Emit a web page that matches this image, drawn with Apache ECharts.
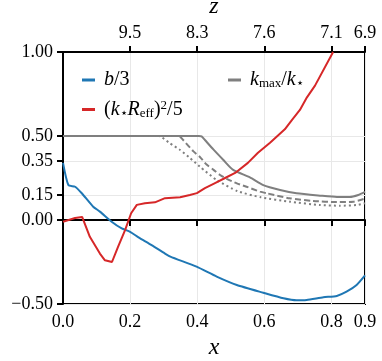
<!DOCTYPE html>
<html>
<head>
<meta charset="utf-8">
<script src="https://cdn.jsdelivr.net/npm/echarts@6/dist/echarts.min.js"></script>
<style>
  html, body { margin: 0; padding: 0; background: #fff; }
  #chart { width: 382px; height: 361px; }
</style>
</head>
<body>
<div id="chart"></div>
<script>
// values, [x, y]
var bOver3 = [[0, 0.34], [0.016, 0.208], [0.036, 0.198], [0.056, 0.159], [0.09, 0.079], [0.11, 0.05],
  [0.145, -0.01], [0.175, -0.05], [0.2, -0.07], [0.225, -0.103], [0.264, -0.149], [0.304, -0.2],
  [0.32, -0.218], [0.398, -0.278], [0.458, -0.337], [0.518, -0.387], [0.597, -0.433],
  [0.657, -0.466], [0.696, -0.478], [0.726, -0.476], [0.776, -0.46], [0.816, -0.452],
  [0.845, -0.427], [0.875, -0.387], [0.9, -0.33]]
var kReff = [[0, -0.01], [0.036, 0.012], [0.057, 0.018], [0.08, -0.1], [0.11, -0.2], [0.125, -0.24],
  [0.146, -0.25], [0.164, -0.16], [0.185, -0.06], [0.203, 0.04], [0.22, 0.09], [0.244, 0.1],
  [0.274, 0.105], [0.304, 0.13], [0.349, 0.135], [0.378, 0.149], [0.399, 0.16], [0.423, 0.19],
  [0.453, 0.22], [0.483, 0.25], [0.513, 0.28], [0.551, 0.34], [0.581, 0.4], [0.617, 0.46],
  [0.661, 0.54], [0.682, 0.595], [0.706, 0.655], [0.727, 0.73], [0.751, 0.8], [0.805, 1.0]]
var kmaxSolid = [[0, 0.5], [0.405, 0.5], [0.413, 0.498], [0.423, 0.476], [0.448, 0.42], [0.478, 0.357],
  [0.507, 0.298], [0.557, 0.254], [0.597, 0.208], [0.647, 0.179], [0.696, 0.159], [0.766, 0.145],
  [0.816, 0.137], [0.855, 0.137], [0.88, 0.149], [0.9, 0.167]]
var kmaxDashed = [[0, 0.5], [0.345, 0.5], [0.358, 0.476], [0.388, 0.41], [0.408, 0.375], [0.428, 0.33],
  [0.448, 0.3], [0.468, 0.268], [0.488, 0.245], [0.518, 0.218], [0.547, 0.198], [0.587, 0.169],
  [0.607, 0.159], [0.676, 0.129], [0.746, 0.113], [0.816, 0.107], [0.865, 0.109], [0.9, 0.127]]
var kmaxDotted = [[0, 0.5], [0.285, 0.5], [0.319, 0.456], [0.349, 0.417], [0.378, 0.37], [0.408, 0.317],
  [0.458, 0.238], [0.52, 0.172], [0.59, 0.135], [0.676, 0.109], [0.766, 0.089], [0.825, 0.085],
  [0.875, 0.089], [0.9, 0.1]]

var xTicks = [0, 0.2, 0.4, 0.6, 0.8, 0.9]
var yTicks = [-0.5, 0, 0.15, 0.35, 0.5, 1]
var zPos = [0.2, 0.4, 0.6, 0.8, 0.9]
var zLabels = ['9.5', '8.3', '7.6', '7.1', '6.9']

var serif = 'Liberation Serif'
var labelStyle = { fontFamily: serif, fontSize: 18, color: '#000' }

var legendText = {
  b3: '{i|b}{n|/3}',
  kr: '{n|(}{i|k}{s|⋆}{i|R}{s|eff}{n|)}{p|2}{n|/5}',
  kmax: '{i|k}{s|max}{n|/}{i|k}{s|⋆}'
}
var rich = {
  n: { fontFamily: serif, fontSize: 20, color: '#000' },
  i: { fontFamily: serif, fontSize: 20, fontStyle: 'italic', color: '#000' },
  s: { fontFamily: serif, fontSize: 13, color: '#000', verticalAlign: 'bottom', padding: [8, 0, 0, 0] },
  p: { fontFamily: serif, fontSize: 13, color: '#000', verticalAlign: 'top', padding: [0, 0, 8, 0] }
}

var chart = echarts.init(document.getElementById('chart'))
chart.setOption({
  animation: false,
  grid: {
    left: 63, right: 17, top: 52, bottom: 57,
    outerBoundsMode: 'none', containLabel: false,
    show: true, borderColor: '#000', borderWidth: 2
  },
  legend: [{
    data: ['b3', 'kr'],
    orient: 'vertical',
    left: 77, top: 65,
    icon: 'rect', itemWidth: 13, itemHeight: 3, itemGap: 9,
    formatter: function (n) { return legendText[n] },
    textStyle: { rich: rich, padding: [0, 0, 0, 4] }
  }, {
    data: ['kmax'],
    left: 223, top: 65,
    icon: 'rect', itemWidth: 13, itemHeight: 3,
    formatter: function (n) { return legendText[n] },
    textStyle: { rich: rich, padding: [0, 0, 0, 4] }
  }],
  xAxis: [{
    type: 'value', min: 0, max: 0.9,
    name: 'x', nameLocation: 'middle', nameGap: 29,
    nameTextStyle: { fontFamily: serif, fontSize: 24, fontStyle: 'italic', color: '#000' },
    axisLine: { lineStyle: { color: '#000', width: 2 } },
    axisTick: { customValues: xTicks, length: 6, lineStyle: { color: '#000', width: 2 } },
    axisLabel: Object.assign({ customValues: xTicks, margin: 9,
      formatter: function (v) { return v.toFixed(1) } }, labelStyle),
    splitLine: { show: true, lineStyle: { color: '#e8e8e8', width: 1 } }
  }, {
    type: 'value', min: 0, max: 0.9, position: 'top',
    name: 'z', nameLocation: 'middle', nameGap: 29,
    nameTextStyle: { fontFamily: serif, fontSize: 24, fontStyle: 'italic', color: '#000' },
    axisLine: { lineStyle: { color: '#000', width: 2 } },
    axisTick: { customValues: zPos, length: 6, lineStyle: { color: '#000', width: 2 } },
    axisLabel: Object.assign({ customValues: zPos, margin: 10,
      formatter: function (v) {
        var k = zPos.findIndex(function (p) { return Math.abs(p - v) < 1e-6 })
        return k >= 0 ? zLabels[k] : ''
      } }, labelStyle),
    splitLine: { show: false }
  }],
  yAxis: {
    type: 'value', min: -0.5, max: 1,
    axisLine: { show: true, lineStyle: { color: '#000', width: 2 } },
    axisTick: { show: true, customValues: yTicks, length: 6, lineStyle: { color: '#000', width: 2 } },
    axisLabel: Object.assign({ customValues: yTicks, margin: 10,
      formatter: function (v) { return v.toFixed(2).replace('-', '−') } }, labelStyle),
    splitLine: { show: true, lineStyle: { color: '#e8e8e8', width: 1 } }
  },
  series: [{
    name: 'b3', type: 'line', data: bOver3, symbol: 'none', smooth: 0.2,
    color: '#1f77b4', lineStyle: { width: 2 }, z: 3
  }, {
    name: 'kr', type: 'line', data: kReff, symbol: 'none',
    color: '#d62728', lineStyle: { width: 2 }, z: 4
  }, {
    name: 'kmax', type: 'line', data: kmaxSolid, symbol: 'none', smooth: 0.2,
    color: '#7f7f7f', lineStyle: { width: 2 }, z: 2
  }, {
    name: 'kmaxDashed', type: 'line', data: kmaxDashed, symbol: 'none', smooth: 0.2,
    color: '#7f7f7f', lineStyle: { width: 2, type: [6, 3] }, z: 2
  }, {
    name: 'kmaxDotted', type: 'line', data: kmaxDotted, symbol: 'none', smooth: 0.2,
    color: '#7f7f7f', lineStyle: { width: 2, type: [2, 3] }, z: 2
  }]
})
</script>
</body>
</html>
